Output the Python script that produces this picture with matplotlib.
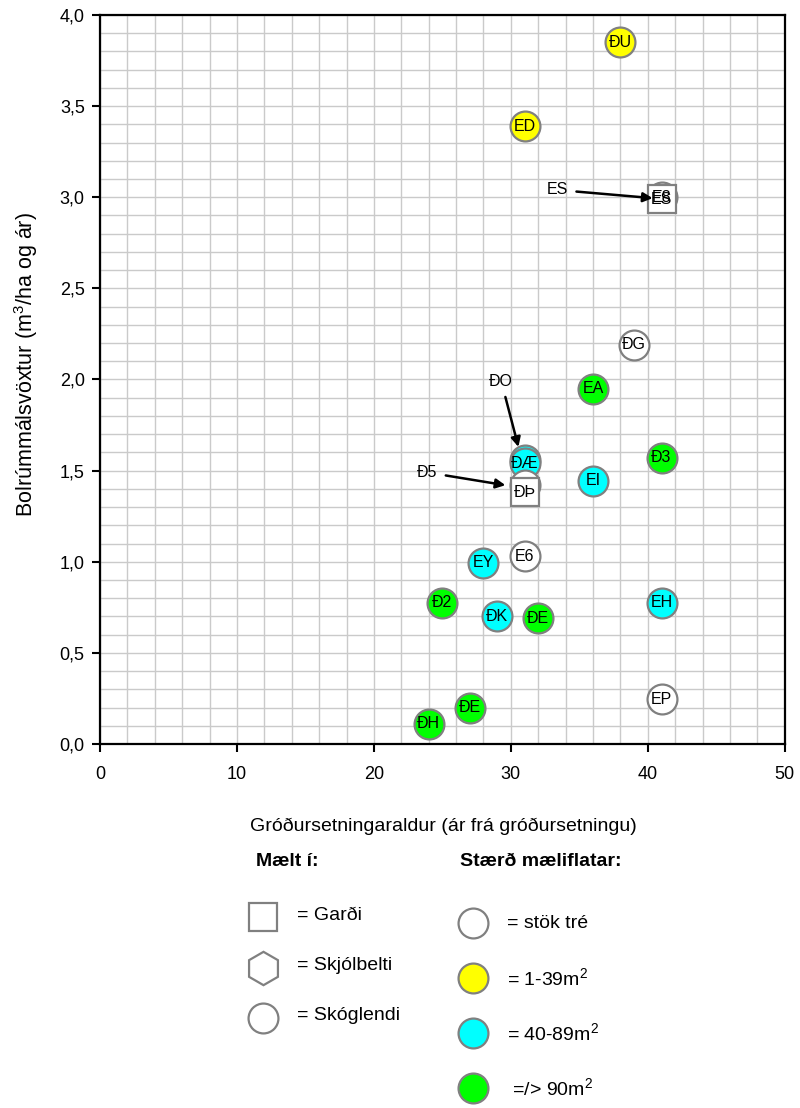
"""Bolrúmmálsvöxtur eftir gróðursetningaraldri."""

import matplotlib
matplotlib.use("Agg")
from matplotlib import pyplot as plt
from matplotlib.lines import Line2D

plt.rcParams["font.family"] = ["Liberation Sans", "DejaVu Sans"]
plt.rcParams["mathtext.fontset"] = "custom"
plt.rcParams["mathtext.rm"] = "Liberation Sans"
plt.rcParams["mathtext.it"] = "Liberation Sans"
plt.rcParams["mathtext.bf"] = "Liberation Sans:bold"

# site data: label, age (years), growth (m3/ha/yr), area class, site type
labels = ["ĐU", "ED", "E8", "ES", "ĐG", "EA", "ĐO", "ĐÆ", "Đ5", "ĐÞ", "Đ3", "EI",
          "E6", "EY", "Đ2", "ĐK", "ĐE", "EH", "EP", "ĐE", "ĐH"]
ages = [38, 31, 41, 41, 39, 36, 31, 31, 31, 31, 41, 36,
        31, 28, 25, 29, 32, 41, 41, 27, 24]
growth = [3.85, 3.39, 3.00, 2.99, 2.19, 1.95, 1.56, 1.54, 1.42, 1.38, 1.57, 1.445,
          1.03, 0.995, 0.775, 0.70, 0.69, 0.775, 0.247, 0.198, 0.11]
area_class = ["small", "small", "single", "single", "single", "large", "mid", "mid",
              "single", "single", "large", "mid",
              "single", "mid", "large", "mid", "large", "mid", "single", "large", "large"]
site_type = ["forest", "forest", "forest", "garden", "forest", "forest", "forest", "forest",
             "forest", "garden", "forest", "forest",
             "forest", "forest", "forest", "forest", "forest", "forest", "forest", "forest", "forest"]

# labels drawn with an arrow instead of inside the marker: text xy, arrow tip xy
arrow_labels = {"ES": (33.4, 3.04, 40.35, 2.995),
                "ĐO": (29.3, 1.99, 30.55, 1.63),
                "Đ5": (23.9, 1.49, 29.6, 1.42)}

fill_colors = {"single": "white", "small": "#ffff00", "mid": "#00ffff", "large": "#00ff00"}
shape_markers = {"garden": "s", "shelterbelt": "h", "forest": "o"}
edge = "#808080"

fig = plt.figure(figsize=(8, 11.08), dpi=100)
ax = fig.add_axes([0.125, 0.3285, 0.856, 0.658])

for lab, x, y, ac, st in zip(labels, ages, growth, area_class, site_type):
    ms = 20 if st == "garden" else 21.5
    ax.plot(x, y, marker=shape_markers[st], ms=ms, mfc=fill_colors[ac],
            mec=edge, mew=1.6, ls="none", zorder=3)
    if lab in arrow_labels:
        tx, ty, ex, ey = arrow_labels[lab]
        ax.annotate(lab, xy=(ex, ey), xytext=(tx, ty), fontsize=11.5,
                    ha="center", va="center", zorder=5,
                    arrowprops=dict(arrowstyle="-|>", color="black", lw=1.8,
                                    mutation_scale=14, shrinkA=4, shrinkB=0))
        if lab == "ES":
            ax.text(x, y, lab, fontsize=11.5, ha="center", va="center", zorder=4)
    else:
        ax.text(x, y, lab, fontsize=11.5, ha="center", va="center", zorder=4)

ax.set_xlim(0, 50)
ax.set_ylim(0, 4)
ax.set_xticks(range(0, 51, 10))
ax.set_yticks([i * 0.5 for i in range(9)])
ax.set_yticklabels([f"{i * 0.5:.1f}".replace(".", ",") for i in range(9)])
ax.set_xticks(range(0, 51, 2), minor=True)
ax.set_yticks([i * 0.1 for i in range(41)], minor=True)
ax.grid(which="both", color="#cacaca", lw=1.0, zorder=0)
ax.set_axisbelow(True)
ax.tick_params(which="major", direction="out", length=6, width=1.5, labelsize=13, pad=5)
ax.tick_params(which="minor", length=0)
ax.tick_params(axis="x", pad=10)
for sp in ax.spines.values():
    sp.set_linewidth(1.6)
ax.set_xlabel("Gróðursetningaraldur (ár frá gróðursetningu)", fontsize=14)
ax.set_ylabel("Bolrúmmálsvöxtur (m$^3$/ha og ár)", fontsize=15.5)
ax.xaxis.set_label_coords(0.502, -0.1125)
ax.yaxis.set_label_coords(-0.108, 0.52)
ax.xaxis.label.set_va("center")
ax.yaxis.label.set_va("center")

# legend drawn in pixel coordinates of the figure
lg = fig.add_axes([0, 0, 1, 1], zorder=-1)
lg.set_xlim(0, 800)
lg.set_ylim(1108, 0)
lg.axis("off")

lg.text(287, 862, "Mælt í:", fontsize=14, fontweight="bold", ha="center", va="center")
lg.text(541, 862, "Stærð mæliflatar:", fontsize=14, fontweight="bold", ha="center", va="center")

left_items = [("s", "= Garði"), ("h", "= Skjólbelti"), ("o", "= Skóglendi")]
left_y = [917, 968, 1018]
for (mk, txt), yy in zip(left_items, left_y):
    size = {"s": 19.5, "h": 24, "o": 21.5}[mk]
    lg.add_line(Line2D([263], [yy], marker=mk, ms=size, mfc="white",
                       mec=edge, mew=1.6, ls="none"))
    lg.text(297, yy - 2, txt, fontsize=14, va="center")

right_items = [("single", "= stök tré"), ("small", "= 1-39m$^2$"),
               ("mid", "= 40-89m$^2$"), ("large", " =/> 90m$^2$")]
right_y = [923, 978, 1033, 1088]
for (ac, txt), yy in zip(right_items, right_y):
    lg.add_line(Line2D([473], [yy], marker="o", ms=21.5, mfc=fill_colors[ac],
                       mec=edge, mew=1.6, ls="none"))
    lg.text(507, yy, txt, fontsize=14, va="center")

fig.savefig("out.png", dpi=100)
